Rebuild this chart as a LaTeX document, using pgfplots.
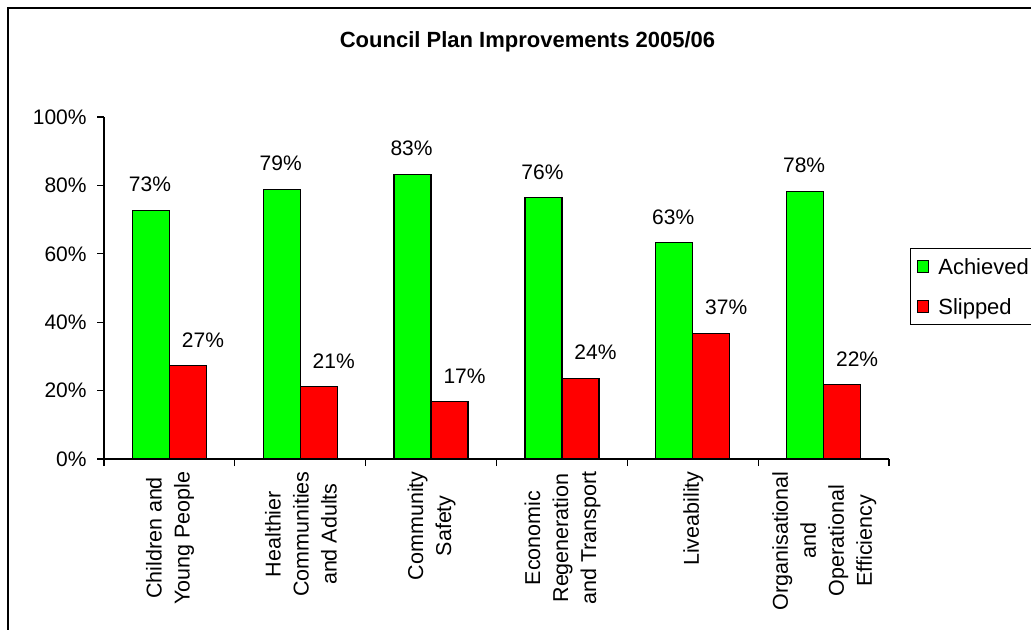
\documentclass[border=0pt]{standalone}
\usepackage{pgfplots}
\pgfplotsset{compat=1.18}
\usepackage{fontspec}
\setmainfont{Liberation Sans}
\definecolor{achgreen}{RGB}{0,255,0}
\definecolor{slipred}{RGB}{255,0,0}
\begin{document}
\begin{tikzpicture}
\path[use as bounding box] (0pt,0pt) rectangle (515.5pt,-315pt);
\draw[line width=1pt] (525pt,-4pt) -- (4pt,-4pt) -- (4pt,-330pt);
\node[font=\fontsize{11}{13}\selectfont\bfseries, anchor=base] at (263.75pt,-24pt) {Council Plan Improvements 2005/06};
\begin{axis}[
  at={(52pt,-229.5pt)}, anchor=south west,
  scale only axis, width=392.5pt, height=171pt,
  xmin=0.5, xmax=6.5, ymin=0, ymax=100,
  axis lines=left, axis line style={-, line width=0.6pt},
  tick align=outside,
  tick style={black, line width=0.6pt},
  major tick length=3.5pt, minor tick length=3.5pt,
  ytick={0,20,...,100},
  yticklabel={\pgfmathprintnumber{\tick}\%},
  yticklabel style={font=\fontsize{10.5}{12}\selectfont, inner sep=0pt, xshift=-5pt},
  /pgf/number format/assume math mode=true,
  xtick={1,...,6},
  major x tick style={draw=none},
  minor xtick={0.5,1.5,...,6.5},
  xticklabels={{Children and\\Young People},{Healthier\\Communities\\and Adults},{Community\\Safety},{Economic\\Regeneration\\and Transport},{Liveability},{Organisational\\and\\Operational\\Efficiency}},
  xticklabel style={rotate=90, anchor=east, align=center, font=\fontsize{10.75}{14}\selectfont, inner sep=0pt, yshift=-0.3pt, xshift=-2.5pt},
  ybar=0pt, bar width=18.5pt,
  nodes near coords={\pgfmathprintnumber[fixed,precision=0]{\pgfplotspointmeta}\%},
  nodes near coords style={font=\fontsize{10.5}{12}\selectfont, anchor=south, inner sep=0pt, yshift=9pt, text depth=0pt},
  legend style={at={(1.0268,0.617)}, anchor=north west, draw=black, line width=0.6pt, font=\fontsize{11}{13}\selectfont, inner xsep=3pt, inner ysep=3pt, row sep=8pt, nodes={text depth=0pt}},
  legend cell align=left,
  legend image code/.code={\draw[#1,line width=0.5pt] (0pt,-2.9pt) rectangle (5.8pt,2.9pt); \path (8.3pt,0pt);},
]
\addplot[fill=achgreen, draw=black, line width=0.6pt, every node near coord/.append style={xshift=-0.5pt}] coordinates {(1,72.7) (2,78.9) (3,83.3) (4,76.4) (5,63.2) (6,78.3)};
\addplot[fill=slipred, draw=black, line width=0.6pt, every node near coord/.append style={xshift=7.5pt}] coordinates {(1,27.3) (2,21.1) (3,16.7) (4,23.6) (5,36.8) (6,21.7)};
\legend{Achieved,Slipped}
\end{axis}
\end{tikzpicture}
\end{document}
